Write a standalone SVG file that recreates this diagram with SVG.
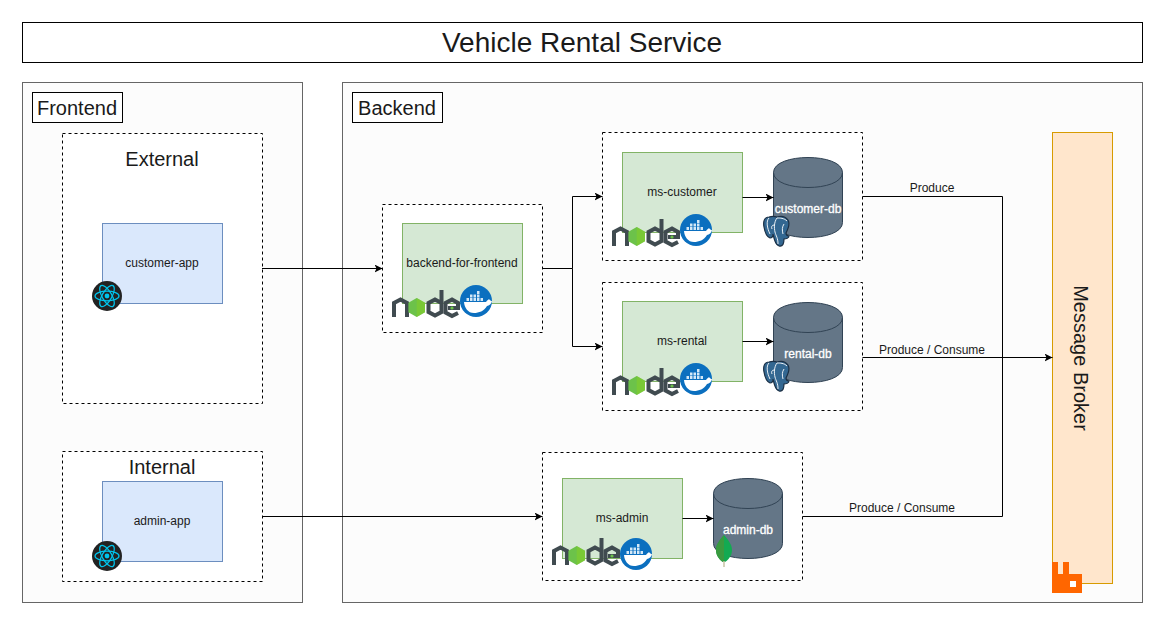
<svg xmlns="http://www.w3.org/2000/svg" width="1167" height="626" viewBox="0 0 1167 626">
<style>
text{font-family:"Liberation Sans",Arial,sans-serif;text-anchor:middle;fill:#1a1a1a}
.panel{fill:#fcfcfc;stroke:#666;stroke-width:1}
.lbl{fill:#fff;stroke:#000;stroke-width:1}
.dash{fill:#fff;stroke:#000;stroke-width:1;stroke-dasharray:3 3}
.blue{fill:#dae8fc;stroke:#6c8ebf}
.green{fill:#d5e8d4;stroke:#82b366}
.t20{font-size:20px}
.t12{font-size:12px}
.db{fill:#647687;stroke:#314354}
.dbt{font-size:12px;fill:#fff;stroke:#fff;stroke-width:.3px}
.edge{fill:none;stroke:#000;stroke-width:1}
</style>
<defs>
<marker id="arr" markerUnits="userSpaceOnUse" markerWidth="9" markerHeight="8" refX="8" refY="4" orient="auto"><path d="M0,0L8,4L0,8L2,4Z" fill="#000"/></marker>
<symbol id="node" viewBox="0 0 68 28" width="68" height="28" overflow="visible">
<g fill="none" stroke="#404b50" stroke-width="4">
<path d="M2,27V13L8.500,9.500L15,13V27"/>
<path d="M49.500,0V22L43,25.500L36.500,22V13L43,9.500L49.500,13"/>
<path d="M66,23L60,26L53.500,22.500V13L60,9.500L66,13V18L56,18"/>
</g>
<path d="M24.700,8L33,12.700V22.300L24.700,27L16.400,22.300V12.700Z" fill="#6cc24a"/>
<path d="M24.700,8L33,12.700V22.300L24.700,27Z" fill="#83cd29" opacity=".6"/>
<circle cx="60" cy="18" r="1.600" fill="#6cc24a"/>
</symbol>
<symbol id="docker" viewBox="0 0 32 32" width="32" height="32">
<circle cx="16" cy="16" r="16" fill="#0b6fbf"/>
<path d="M4,17H26C27,15.500 28,15 29,14C30,15.500 31,16 32,16C31.500,19 29,20.500 27,21C24,26 19,28 14,28C8,28 4.500,23 4,17Z" fill="#fff"/>
<g fill="#d4e8f7">
<rect x="6.500" y="13" width="2.500" height="3"/><rect x="10" y="13" width="2.500" height="3"/><rect x="13.500" y="13" width="2.500" height="3"/><rect x="17" y="13" width="2.500" height="3"/><rect x="20.500" y="13" width="2.500" height="3"/>
<rect x="10" y="9.500" width="2.500" height="3"/><rect x="13.500" y="9.500" width="2.500" height="3"/><rect x="17" y="9.500" width="2.500" height="3"/><rect x="17" y="6" width="2.500" height="3"/>
</g>
</symbol>
<symbol id="react" viewBox="0 0 30 30" width="30" height="30">
<circle cx="15" cy="15" r="15" fill="#222"/>
<g fill="none" stroke="#00c4ec" stroke-width="1.200">
<ellipse cx="15" cy="15" rx="12" ry="4.800"/>
<ellipse cx="15" cy="15" rx="12" ry="4.800" transform="rotate(60 15 15)"/>
<ellipse cx="15" cy="15" rx="12" ry="4.800" transform="rotate(120 15 15)"/>
</g>
<circle cx="15" cy="15" r="2.400" fill="#00c4ec"/>
</symbol>
<symbol id="pg" viewBox="0 0 28 32" width="28" height="32">
<path d="M7,2C2,2 1,7 2,12C3,18 5,22 8,23C10,23 11,21 11,19C12,24 13,30 17,31C21,32 22,28 22,24C24,24 27,23 27,21C25,21 24,20 24,18C26,14 28,8 26,5C23,1 18,1 15,2C12,1 10,1 7,2Z" fill="#336791" stroke="#1b2f44" stroke-width="1.200"/>
<path d="M15,3C12,7 12,13 13,17C14,21 16,23 16,29M25,6C22,3 18,3 15,3M7,3C4,6 5,13 8,19M12,10C10,10 9,12 10,14M22,9C20,12 20,15 21,19" fill="none" stroke="#fff" stroke-width=".900"/>
</symbol>
<symbol id="leaf" viewBox="0 0 16 32" width="16" height="32">
<path d="M8,0C12,5 16,9 16,15C16,21 12,25 9,27H7C4,25 0,21 0,15C0,9 4,5 8,0Z" fill="#13aa52"/>
<path d="M8,0C4,5 0,9 0,15C0,21 4,25 7,27H8Z" fill="#3a9a3f"/>
<path d="M8,26V32" stroke="#c9c3a5" stroke-width="1.500"/>
</symbol>
</defs>

<g id="title"><rect x="22.500" y="22.500" width="1120" height="40" class="lbl"/><text x="582" y="52" font-size="28">Vehicle Rental Service</text></g>

<g id="frontend"><rect x="22.500" y="82.500" width="280" height="520" class="panel"/><rect x="32.500" y="92.500" width="90" height="30" class="lbl"/><text x="77" y="115" class="t20">Frontend</text></g>
<g id="backend"><rect x="342.500" y="82.500" width="800" height="520" class="panel"/><rect x="352.500" y="92.500" width="90" height="30" class="lbl"/><text x="397" y="115" class="t20">Backend</text></g>

<g id="external"><rect x="62.500" y="133.500" width="200" height="270" class="dash"/><text x="162" y="166" class="t20">External</text></g>
<g id="internal"><rect x="62.500" y="451.500" width="200" height="130" class="dash"/><text x="162" y="474" class="t20">Internal</text></g>
<g id="bff-group"><rect x="382.500" y="204.500" width="160" height="128" class="dash"/></g>
<g id="customer-group"><rect x="602.500" y="132.500" width="260" height="128" class="dash"/></g>
<g id="rental-group"><rect x="602.500" y="282.500" width="260" height="128" class="dash"/></g>
<g id="admin-group"><rect x="542.500" y="452.500" width="260" height="128" class="dash"/></g>

<g id="broker"><rect x="1052.500" y="132.500" width="60" height="451" fill="#ffe6cc" stroke="#d79b00"/><text transform="translate(1081 358) rotate(90)" y="7" font-size="20">Message Broker</text>
<path d="M1052,562H1058V574H1063V562H1069V574H1082V593H1052Z" fill="#f60"/><rect x="1070" y="581" width="6" height="6" fill="#fff"/></g>

<g id="customer-app"><rect x="102.500" y="223.500" width="120" height="80" class="blue"/><text x="162" y="267" class="t12">customer-app</text><use href="#react" x="92" y="281"/></g>
<g id="admin-app"><rect x="102.500" y="481.500" width="120" height="80" class="blue"/><text x="162" y="525" class="t12">admin-app</text><use href="#react" x="92" y="541"/></g>

<g id="backend-for-frontend"><rect x="402.500" y="223.500" width="120" height="80" class="green"/><text x="462" y="267" class="t12">backend-for-frontend</text><use href="#node" x="392" y="290"/><use href="#docker" x="460" y="285"/></g>
<g id="ms-customer"><rect x="622.500" y="152.500" width="120" height="80" class="green"/><text x="682" y="196" class="t12">ms-customer</text><use href="#node" x="612" y="219"/><use href="#docker" x="680" y="214"/></g>
<g id="ms-rental"><rect x="622.500" y="301.500" width="120" height="80" class="green"/><text x="682" y="345" class="t12">ms-rental</text><use href="#node" x="612" y="368"/><use href="#docker" x="680" y="363"/></g>
<g id="ms-admin"><rect x="562.500" y="478.500" width="120" height="80" class="green"/><text x="622" y="522" class="t12">ms-admin</text><use href="#node" x="552" y="538"/><use href="#docker" x="620" y="538"/></g>

<g id="customer-db"><path d="M773.500,172.500C773.500,152.500 842.500,152.500 842.500,172.500V222.500C842.500,242.500 773.500,242.500 773.500,222.500Z" class="db"/><path d="M773.500,172.500C773.500,192.500 842.500,192.500 842.500,172.500" fill="none" stroke="#314354"/><use href="#pg" x="762" y="215"/><text x="808" y="213" class="dbt">customer-db</text></g>
<g id="rental-db"><path d="M773.500,317.500C773.500,297.500 842.500,297.500 842.500,317.500V367.500C842.500,387.500 773.500,387.500 773.500,367.500Z" class="db"/><path d="M773.500,317.500C773.500,337.500 842.500,337.500 842.500,317.500" fill="none" stroke="#314354"/><use href="#pg" x="762" y="360"/><text x="808" y="358" class="dbt">rental-db</text></g>
<g id="admin-db"><path d="M713.500,493.500C713.500,473.500 782.500,473.500 782.500,493.500V543.500C782.500,563.500 713.500,563.500 713.500,543.500Z" class="db"/><path d="M713.500,493.500C713.500,513.500 782.500,513.500 782.500,493.500" fill="none" stroke="#314354"/><use href="#leaf" x="716" y="535"/><text x="748" y="534" class="dbt">admin-db</text></g>

<g id="connectors">
<path class="edge" marker-end="url(#arr)" d="M262,268.500H382.500"/>
<path class="edge" marker-end="url(#arr)" d="M542,268.500H572.500V196.500H602.500"/>
<path class="edge" marker-end="url(#arr)" d="M572.500,268.500V346.500H602.500"/>
<path class="edge" marker-end="url(#arr)" d="M742.500,197.500H773.500"/>
<path class="edge" marker-end="url(#arr)" d="M742.500,341.500H773.500"/>
<path class="edge" marker-end="url(#arr)" d="M682.500,518.500H713.500"/>
<path class="edge" marker-end="url(#arr)" d="M262,516.500H542.500"/>
<path class="edge" marker-end="url(#arr)" d="M862.500,357.500H1052.500"/>
<path class="edge" d="M862.500,196.500H1002.500V357.500"/>
<path class="edge" d="M802.500,516.500H1002.500V357.500"/>
<text x="932" y="192" font-size="12">Produce</text>
<text x="932" y="354" font-size="12">Produce / Consume</text>
<text x="902" y="512" font-size="12">Produce / Consume</text>
</g>
</svg>
